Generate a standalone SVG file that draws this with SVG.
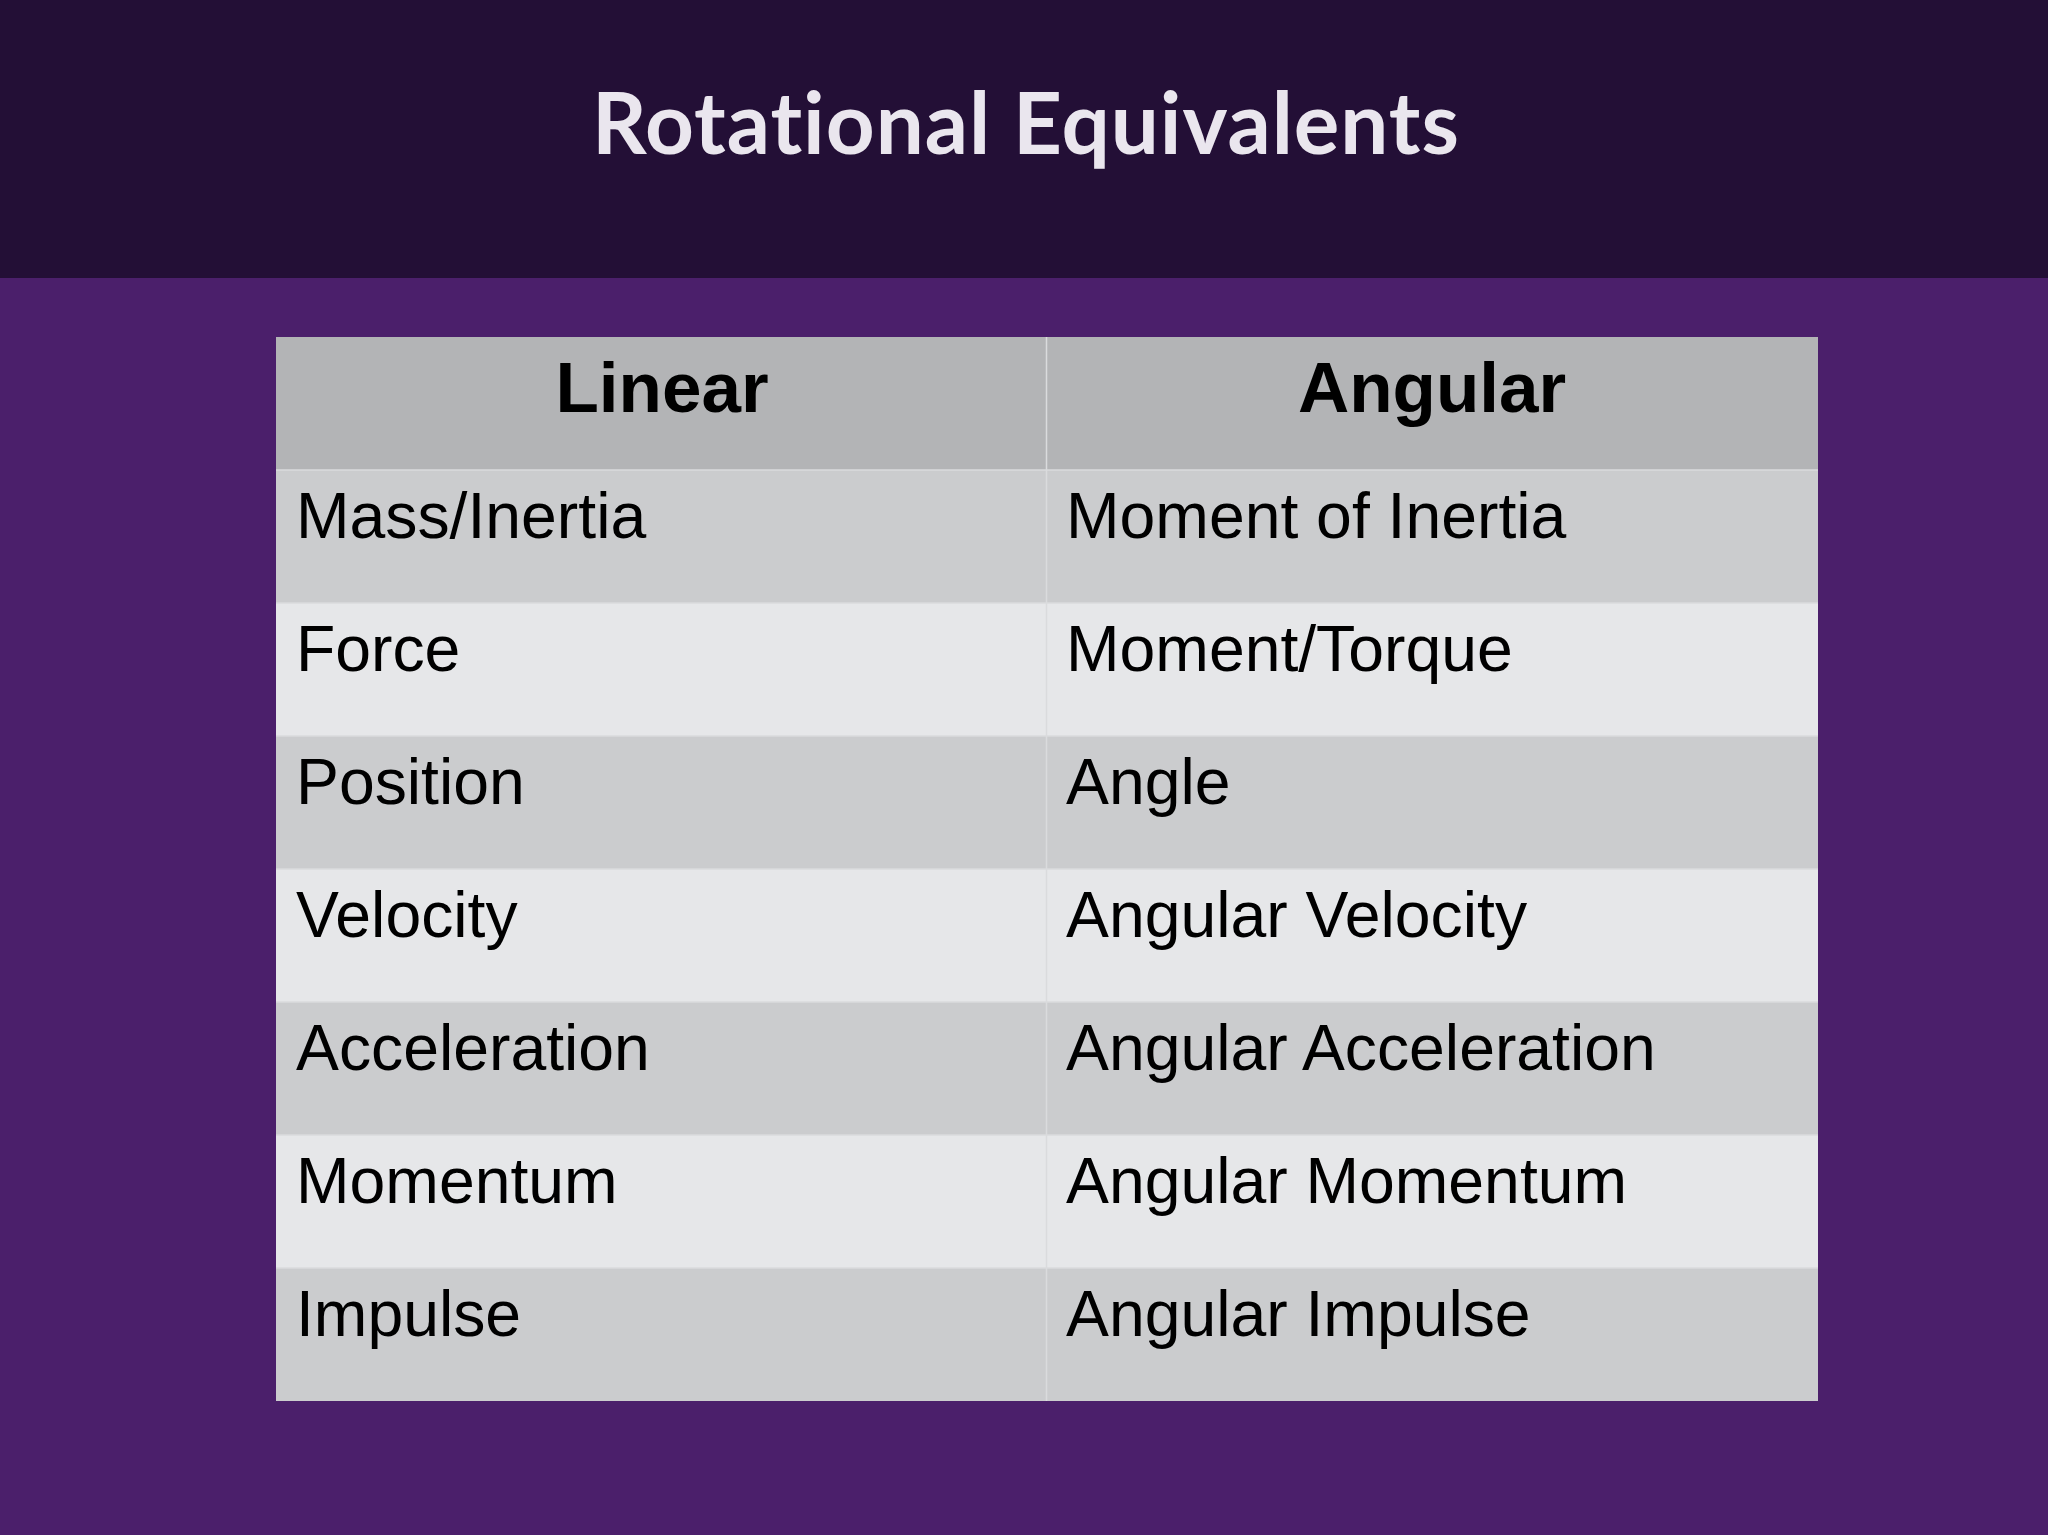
<svg xmlns="http://www.w3.org/2000/svg" width="2048" height="1535" viewBox="0 0 2048 1535">
<style>
.cell{font-family:"Liberation Sans",Arial,sans-serif;font-size:64.3px;fill:#000}
.head{font-family:"Liberation Sans",Arial,sans-serif;font-size:71px;font-weight:bold;fill:#000}
.dark{fill:#CBCCCE}
.light{fill:#E6E7E9}
.title{font-family:Lato,"DejaVu Sans",sans-serif;font-weight:bold;font-size:86px;fill:#EAE6EE;letter-spacing:1px;font-variant-ligatures:none;font-feature-settings:"liga" 0,"clig" 0,"dlig" 0,"calt" 0}
</style>
<rect x="0" y="0" width="2048" height="1535" fill="#4B1F6B"/>
<rect x="0" y="0" width="2048" height="278" fill="#230F36"/>
<g id="title">
<text class="title" x="1026" y="154" text-anchor="middle" textLength="868" lengthAdjust="spacingAndGlyphs">Rotational Equivalents</text>
</g>
<g id="table">
<rect x="276" y="337" width="1542" height="133" fill="#B3B4B6"/>
<rect x="276" y="470" width="1542" height="133" class="dark"/>
<rect x="276" y="603" width="1542" height="133" class="light"/>
<rect x="276" y="736" width="1542" height="133" class="dark"/>
<rect x="276" y="869" width="1542" height="133" class="light"/>
<rect x="276" y="1002" width="1542" height="133" class="dark"/>
<rect x="276" y="1135" width="1542" height="133" class="light"/>
<rect x="276" y="1268" width="1542" height="133" class="dark"/>
<g stroke="#DADBDD" stroke-width="1.5">
<line x1="1046.5" y1="337" x2="1046.5" y2="1401"/>
<line x1="276" y1="470" x2="1818" y2="470"/>
<line x1="276" y1="603" x2="1818" y2="603"/>
<line x1="276" y1="736" x2="1818" y2="736"/>
<line x1="276" y1="869" x2="1818" y2="869"/>
<line x1="276" y1="1002" x2="1818" y2="1002"/>
<line x1="276" y1="1135" x2="1818" y2="1135"/>
<line x1="276" y1="1268" x2="1818" y2="1268"/>
</g>
</g>
<g id="header">
<text class="head" x="662" y="412" text-anchor="middle">Linear</text>
<text class="head" x="1432" y="412" text-anchor="middle">Angular</text>
</g>
<g id="rows">
<text class="cell" x="296" y="538">Mass/Inertia</text>
<text class="cell" x="1066" y="538">Moment of Inertia</text>
<text class="cell" x="296" y="671">Force</text>
<text class="cell" x="1066" y="671">Moment/Torque</text>
<text class="cell" x="296" y="804">Position</text>
<text class="cell" x="1066" y="804">Angle</text>
<text class="cell" x="296" y="937">Velocity</text>
<text class="cell" x="1066" y="937">Angular Velocity</text>
<text class="cell" x="296" y="1070">Acceleration</text>
<text class="cell" x="1066" y="1070">Angular Acceleration</text>
<text class="cell" x="296" y="1203">Momentum</text>
<text class="cell" x="1066" y="1203">Angular Momentum</text>
<text class="cell" x="296" y="1336">Impulse</text>
<text class="cell" x="1066" y="1336">Angular Impulse</text>
</g>
</svg>
